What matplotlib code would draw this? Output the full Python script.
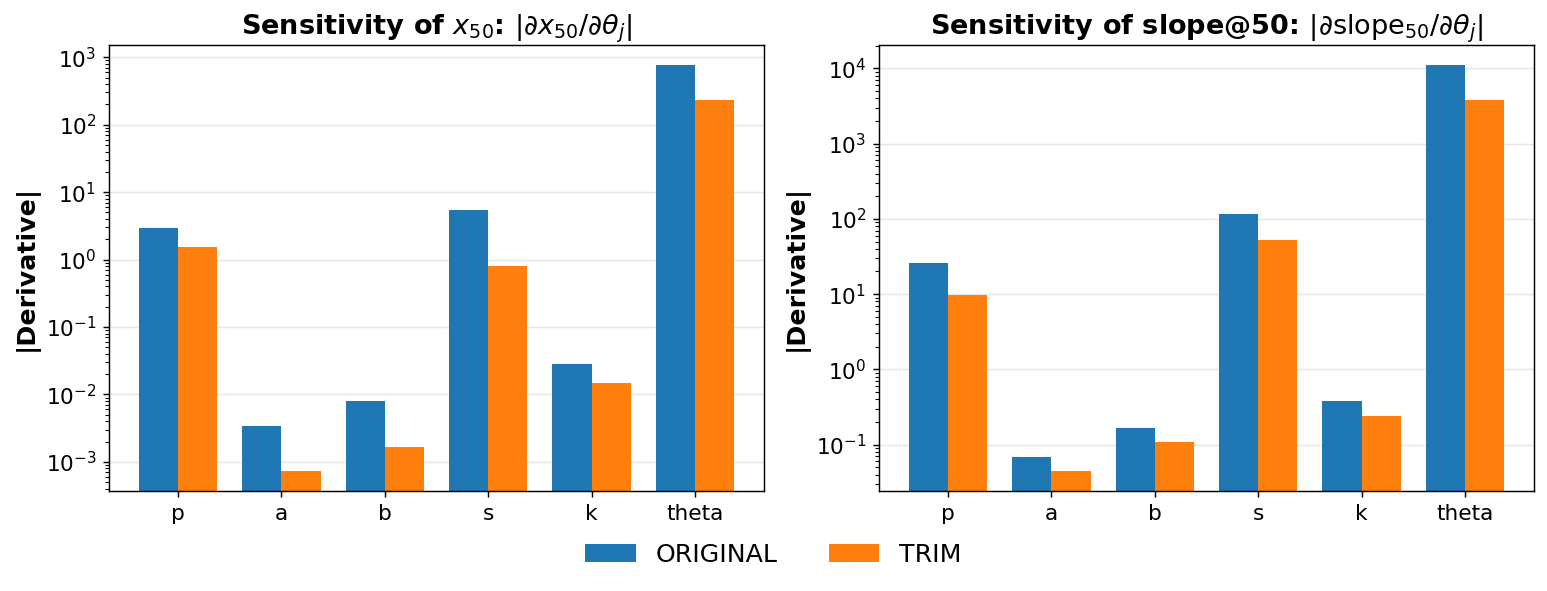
import numpy as np
import matplotlib.pyplot as plt

params = ["p", "a", "b", "s", "k", "theta"]

x50_original = [2.9, 3.4e-3, 8.1e-3, 5.5, 0.028, 760]
x50_trim = [1.56, 7.4e-4, 1.67e-3, 0.81, 0.015, 235]

slope_original = [26, 0.069, 0.168, 116, 0.375, 11000]
slope_trim = [9.7, 0.045, 0.11, 52, 0.237, 3850]

W, H = 1547, 591
fig, axes = plt.subplots(1, 2, figsize=(W / 130, H / 130), dpi=130)
# axes boxes in pixels (left, right, top, bottom)
boxes = [(109, 764, 45, 491), (879, 1534, 45, 491)]
for ax, (l, r, t, b) in zip(axes, boxes):
    ax.set_position([l / W, 1 - b / H, (r - l) / W, (b - t) / H])

xpos = np.arange(len(params))
width = 0.38

panels = [
    (x50_original, x50_trim, r"Sensitivity of $x_{50}$: $|\partial x_{50}/\partial\theta_j|$"),
    (slope_original, slope_trim, r"Sensitivity of slope@50: $|\partial \mathrm{slope}_{50}/\partial\theta_j|$"),
]

for ax, (orig, trim, title) in zip(axes, panels):
    ax.bar(xpos - width / 2, orig, width, color="#1f77b4", label="ORIGINAL")
    ax.bar(xpos + width / 2, trim, width, color="#ff7f0e", label="TRIM")
    ax.set_yscale("log")
    ax.set_xticks(xpos)
    ax.set_xticklabels(params)
    ax.tick_params(labelsize=12)
    ax.set_ylabel("|Derivative|", fontsize=14, fontweight="bold")
    ax.set_title(title, fontsize=15, fontweight="bold")
    ax.grid(axis="y", alpha=0.3)
    ax.set_axisbelow(True)

handles, labels = axes[0].get_legend_handles_labels()
fig.legend(handles, labels, loc="center", ncol=2, frameon=False, fontsize=14,
           bbox_to_anchor=(0.5, 1 - 555 / H))

fig.savefig("out.png")
